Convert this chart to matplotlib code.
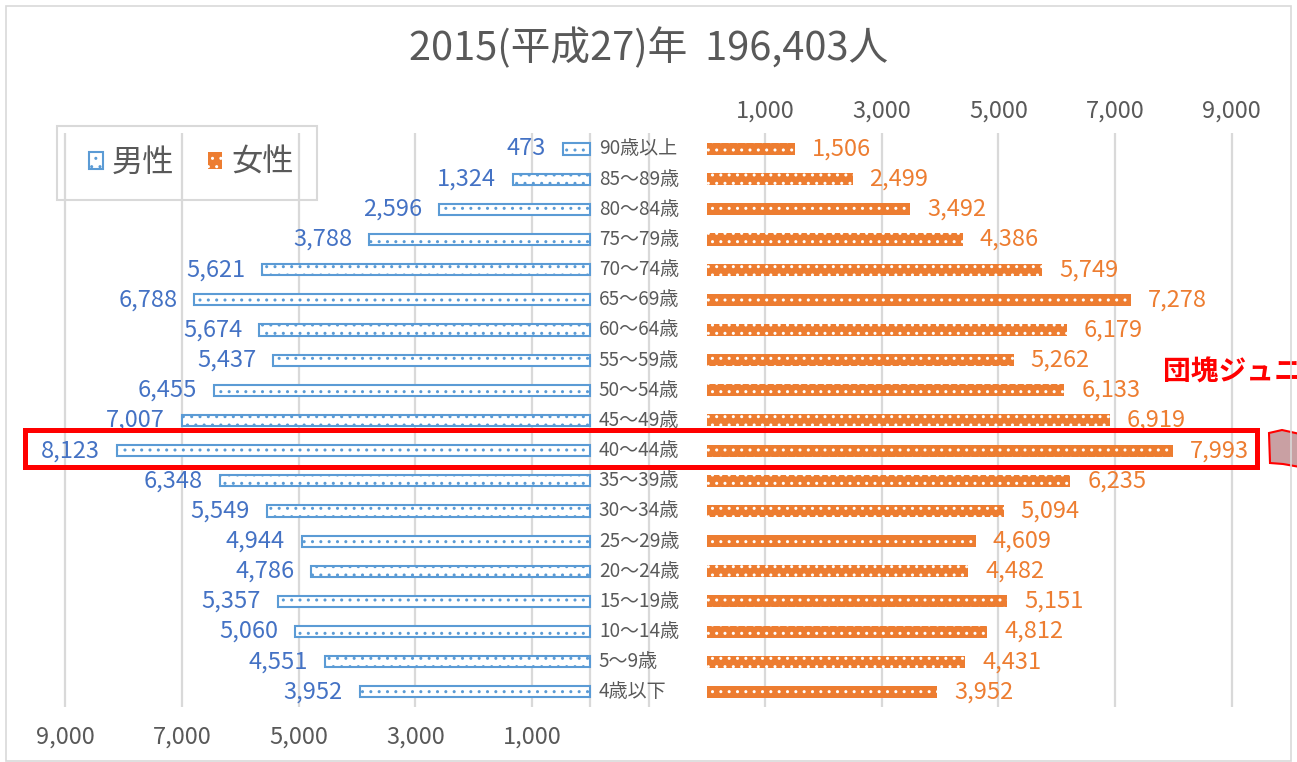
import matplotlib
matplotlib.use('Agg')
import matplotlib.pyplot as plt
from matplotlib.patches import Patch, Rectangle, Polygon
from matplotlib.legend_handler import HandlerTuple

plt.rcParams['font.family'] = ['Noto Sans CJK JP', 'DejaVu Sans']
plt.rcParams['hatch.linewidth'] = 1.0

# data (top row first)
ages = ['90歳以上', '85～89歳', '80～84歳', '75～79歳', '70～74歳', '65～69歳',
        '60～64歳', '55～59歳', '50～54歳', '45～49歳', '40～44歳', '35～39歳',
        '30～34歳', '25～29歳', '20～24歳', '15～19歳', '10～14歳', '5～9歳', '4歳以下']
male = [473, 1324, 2596, 3788, 5621, 6788, 5674, 5437, 6455, 7007,
        8123, 6348, 5549, 4944, 4786, 5357, 5060, 4551, 3952]
female = [1506, 2499, 3492, 4386, 5749, 7278, 6179, 5262, 6133, 6919,
          7993, 6235, 5094, 4609, 4482, 5151, 4812, 4431, 3952]
tick_vals = [1000, 3000, 5000, 7000, 9000]
title = '2015(平成27)年  196,403人'
highlight = '40～44歳'
note = '団塊ジュニア世代'

BLUE_EDGE = '#5B9BD5'
BLUE_TEXT = '#4472C4'
ORANGE = '#ED7D31'
GRAY = '#595959'
GRID = '#D9D9D9'

OFFSET = 1000      # half of the gap between the two sides, in persons
PAD = 290          # label distance from bar end, in persons

fig = plt.figure(figsize=(12.97, 7.62), dpi=100)
ax = fig.add_axes([0, 55 / 762, 1, 574 / 762])
ax.set_xlim(-11123, 11123)
ax.set_ylim(18.5, -0.53)

y = list(range(len(ages)))

# grid lines
grid_x = [-(OFFSET + v) for v in tick_vals] + [-OFFSET, 0] + [OFFSET + v for v in tick_vals]
for gx in grid_x:
    ax.axvline(gx, color=GRID, lw=1.6, zorder=0)

# male bars (white with blue dots)
ax.barh(y, [-v for v in male], left=-OFFSET, height=0.37, color='white',
        edgecolor=BLUE_EDGE, lw=1.5, hatch='..', zorder=2)
# female bars (orange with white dots)
ax.barh(y, female, left=OFFSET, height=0.4, color=ORANGE, lw=0, zorder=2)
ax.barh(y, female, left=OFFSET, height=0.4, color='none',
        edgecolor='white', lw=0, hatch='..', zorder=3)

for i in y:
    ax.text(-OFFSET - male[i] - PAD, i, f'{male[i]:,}', ha='right', va='center',
            fontsize=17, color=BLUE_TEXT)
    ax.text(OFFSET + female[i] + PAD, i, f'{female[i]:,}', ha='left', va='center',
            fontsize=17, color=ORANGE)
    ax.text(-850, i, ages[i], ha='left', va='center', fontsize=13.7, color=GRAY)

# bottom axis = male, top axis = female
ax.set_xticks([-(OFFSET + v) for v in tick_vals], [f'{v:,}' for v in tick_vals])
ax.tick_params(axis='x', length=0, pad=13.5, labelsize=17, labelcolor=GRAY)
ax.set_yticks([])
sec = ax.secondary_xaxis('top')
sec.set_xticks([OFFSET + v for v in tick_vals], [f'{v:,}' for v in tick_vals])
sec.tick_params(length=0, pad=7.5, labelsize=17, labelcolor=GRAY)
for s in list(ax.spines.values()) + list(sec.spines.values()):
    s.set_visible(False)

# highlight of the 40-44 row
hi = ages.index(highlight)
ax.add_patch(Rectangle((-10695, hi - 0.68), 21132, 1.22, fill=False,
                       ec='#FF0000', lw=3.6, zorder=5, clip_on=False))
ax.text(8825, hi - 2.58, note, ha='left', va='center', fontsize=20,
        fontweight='bold', color='#FF0000', clip_on=False)

# bit of a callout arrow poking in at the right edge
fig.add_artist(Polygon([(1269 / 1297, 1 - 433 / 762), (1282 / 1297, 1 - 430 / 762),
                        (1300 / 1297, 1 - 434 / 762), (1300 / 1297, 1 - 467 / 762),
                        (1283 / 1297, 1 - 464 / 762), (1270 / 1297, 1 - 463 / 762)],
                       closed=True, transform=fig.transFigure,
                       fc='#C9A0A3', ec='#FF0000', lw=1.5))

# legend
h_m = Patch(facecolor='white', edgecolor=BLUE_EDGE, hatch='..', lw=1.5)
h_f1 = Patch(facecolor=ORANGE, lw=0)
h_f2 = Patch(facecolor='none', edgecolor='white', hatch='..', lw=0)
fig.legend([h_m, (h_f1, h_f2)], ['男性', '女性'],
           handler_map={tuple: HandlerTuple(ndivide=1)},
           loc='center', bbox_to_anchor=(191 / 1297, 1 - 163 / 762),
           ncol=2, fontsize=22.5, labelcolor=GRAY, frameon=False,
           handlelength=0.45, handleheight=0.45,
           handletextpad=0.28, columnspacing=1.1, borderpad=0.3)
fig.add_artist(Rectangle((57 / 1297, 1 - 200 / 762), 260 / 1297, 74 / 762, fill=False,
                         ec=GRID, lw=1.5, transform=fig.transFigure))

fig.text(0.5, 1 - 48 / 762, title, ha='center', va='center', fontsize=28.6, color=GRAY)

# chart frame
fig.add_artist(Rectangle((6 / 1297, 1 / 762), 1285 / 1297, 755 / 762, fill=False,
                         ec=GRID, lw=1.2, transform=fig.transFigure))

fig.savefig('out.png', dpi=100)
